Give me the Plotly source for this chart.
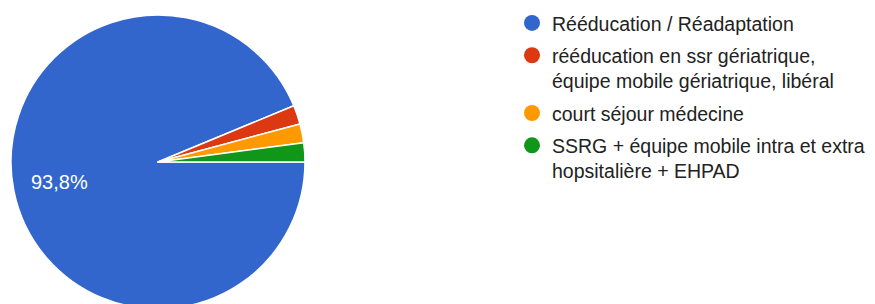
import math
import plotly.graph_objects as go

categories = [
    "Rééducation / Réadaptation",
    "rééducation en ssr gériatrique,<br>équipe mobile gériatrique, libéral",
    "court séjour médecine",
    "SSRG + équipe mobile intra et extra<br>hopsitalière + EHPAD",
]
counts = [45, 1, 1, 1]
colors = ["#3366cc", "#dc3912", "#ff9900", "#109618"]

W, H = 875, 304
cx, cy, r = 150, 154, 147  # pie centre / radius in figure pixels
FONT = "Arial, 'Liberation Sans', sans-serif"

total = sum(counts)

fig = go.Figure()
fig.add_trace(go.Pie(
    labels=categories,
    values=counts,
    textinfo="none",
    marker=dict(colors=colors, line=dict(color="white", width=1.5)),
    sort=False,
    direction="clockwise",
    rotation=90,
    showlegend=False,
    hoverinfo="label+percent",
    domain=dict(x=[(cx - r) / W, (cx + r) / W], y=[(H - cy - r) / H, (H - cy + r) / H]),
))

# percentage labels for the large slices (placed along slice mid-angle)
cum = 0
for c in counts:
    frac = c / total
    if frac > 0.05:
        mid = -(cum + frac / 2) * 2 * math.pi  # start at 3 o'clock, clockwise
        px = cx + 0.68 * r * math.cos(mid)
        py = cy - 0.68 * r * math.sin(mid)
        fig.add_annotation(
            x=px / W, y=1 - py / H, xref="paper", yref="paper",
            xanchor="center", yanchor="middle",
            text=f"{frac * 100:.1f}%".replace(".", ","),
            showarrow=False,
            font=dict(color="white", size=20, family=FONT),
        )
    cum += frac

for i, (name, col) in enumerate(zip(categories, colors)):
    fig.add_trace(go.Scatter(
        x=[None], y=[None], mode="markers", name=name,
        legendgroup=f"g{i}",
        marker=dict(symbol="circle", size=20, color=col),
        showlegend=True,
    ))

fig.update_layout(
    width=W, height=H,
    margin=dict(l=0, r=0, t=0, b=0, autoexpand=False),
    paper_bgcolor="white", plot_bgcolor="white",
    xaxis=dict(visible=False), yaxis=dict(visible=False),
    legend=dict(
        x=504 / W, y=1.014, xanchor="left", yanchor="top",
        valign="top",
        tracegroupgap=4,
        maxheight=400,
        font=dict(size=19.5, color="#222222", family=FONT),
        bgcolor="rgba(0,0,0,0)",
        itemclick=False, itemdoubleclick=False,
    ),
)

fig.write_html("out.html")
